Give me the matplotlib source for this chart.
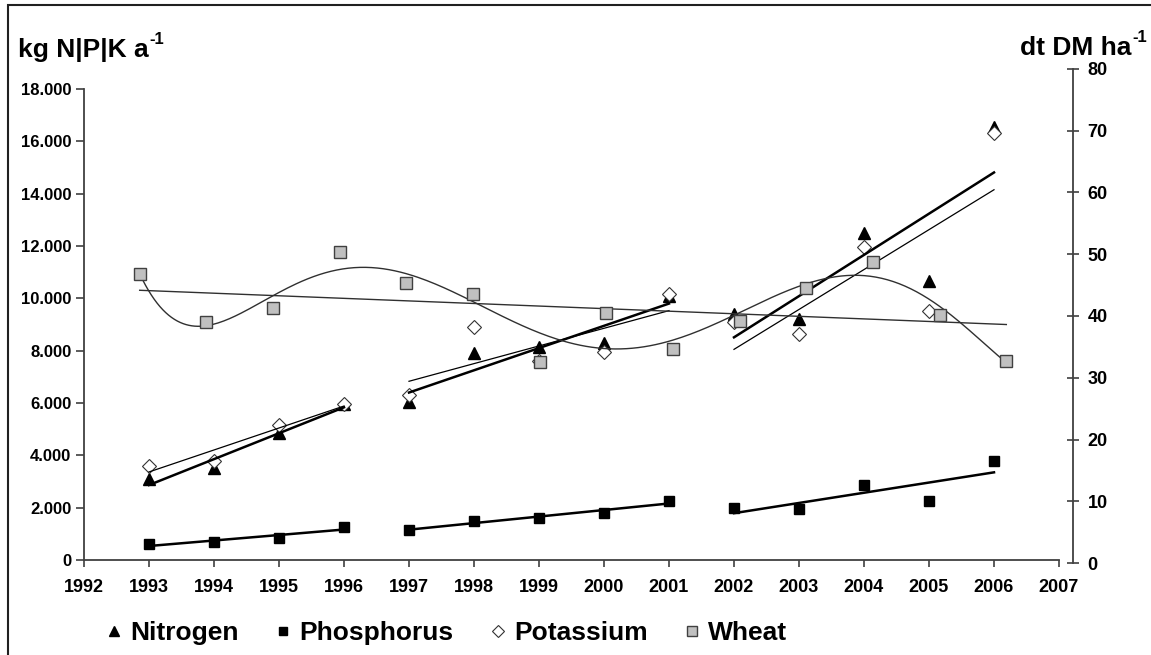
import numpy as np
import matplotlib
matplotlib.use("Agg")
import matplotlib.pyplot as plt
from matplotlib.lines import Line2D
from matplotlib.patches import Rectangle
from matplotlib.ticker import FuncFormatter

plt.rcParams['font.family'] = 'Liberation Sans'
plt.rcParams['font.weight'] = 'bold'

# data
years = np.arange(1993, 2007)
segments = [(1993, 1996), (1997, 2001), (2002, 2006)]

nitrogen = np.array([3100, 3500, 4850, 5950, 6050, 7900, 8150, 8300, 10100,
                     9400, 9200, 12500, 10650, 16550])
phosphorus = np.array([600, 700, 850, 1250, 1150, 1500, 1600, 1800, 2250,
                       2000, 1950, 2850, 2250, 3800])
potassium = np.array([3600, 3800, 5150, 5950, 6300, 8900, 7600, 7950, 10150,
                      9100, 8650, 11950, 9500, 16300])
wheat = np.array([46.8, 39.0, 41.3, 50.4, 45.3, 43.6, 32.6, 40.5, 34.7,
                  39.2, 44.5, 48.7, 40.2, 32.7])

x_ticks = np.arange(1992, 2008)
left_ticks = np.arange(0, 18001, 2000)
right_ticks = np.arange(0, 81, 10)

W, H = 1151, 655
fig = plt.figure(figsize=(W / 100, H / 100), dpi=100)


def box(l, r, t, b):
    return [l / W, 1 - b / H, (r - l) / W, (b - t) / H]


axis_col = '#404040'

ax = fig.add_axes(box(84, 1059, 89, 560))
ax2 = fig.add_axes(box(73, 1073, 69, 563))
ax2.patch.set_visible(False)

# nutrients with one linear trend per period
series = [
    (nitrogen, dict(marker='^', color='black', ms=8), 1.8),
    (phosphorus, dict(marker='s', color='black', ms=7.5), 1.8),
    (potassium, dict(marker='D', mfc='white', mec='#333333', mew=0.8, ms=7), 0.9),
]
for vals, style, lw in series:
    ax.plot(years, vals, ls='none', zorder=3, **style)
    for a, b in segments:
        m = (years >= a) & (years <= b)
        coef = np.polyfit(years[m], vals[m], 1)
        xs = np.array([a, b])
        ax.plot(xs, np.polyval(coef, xs), color='black', lw=lw, zorder=4)

ax.set_xlim(1992, 2007)
ax.set_ylim(0, 18000)
ax.set_xticks(x_ticks)
ax.set_yticks(left_ticks)
ax.yaxis.set_major_formatter(FuncFormatter(lambda v, p: f"{int(v):,}".replace(",", ".")))
for s in ['top', 'right']:
    ax.spines[s].set_visible(False)
for s in ['left', 'bottom']:
    ax.spines[s].set_color(axis_col)
    ax.spines[s].set_linewidth(1.3)
ax.tick_params(axis='x', direction='out', length=5, width=1.2, color=axis_col,
               labelsize=13, pad=9)
ax.tick_params(axis='y', direction='out', length=6, width=1.2, color=axis_col,
               labelsize=12, pad=3)

# wheat on its own axis
ax2.plot(years, wheat, ls='none', marker='s', ms=9, mfc='#c0c0c0', mec='#404040',
         mew=1.0, zorder=3)
lin = np.polyfit(years, wheat, 1)
xs = np.array([years[0], years[-1]])
ax2.plot(xs, np.polyval(lin, xs), color='#303030', lw=1.0)
poly = np.polyfit(years - 1999.5, wheat, 6)
xs = np.linspace(years[0], years[-1], 300)
ax2.plot(xs, np.polyval(poly, xs - 1999.5), color='#303030', lw=1.0)

ax2.set_xlim(1992, 2007)
ax2.set_ylim(0, 80)
ax2.set_yticks(right_ticks)
ax2.xaxis.set_visible(False)
ax2.yaxis.tick_right()
for s in ['top', 'left', 'bottom']:
    ax2.spines[s].set_visible(False)
ax2.spines['right'].set_color(axis_col)
ax2.spines['right'].set_linewidth(1.3)
ax2.tick_params(axis='y', direction='inout', length=9, width=1.2, color=axis_col,
                labelsize=13, pad=6)

# axis titles with a plain hyphen superscript
renderer = fig.canvas.get_renderer()
t1 = fig.text(18 / W, 1 - 50 / H, "kg N|P|K a", fontsize=19, ha='left', va='center')
x1 = t1.get_window_extent(renderer).x1
fig.text((x1 + 1) / W, 1 - 39 / H, "-1", fontsize=12, ha='left', va='center')

s2 = fig.text(1147 / W, 1 - 37 / H, "-1", fontsize=12, ha='right', va='center')
x0 = s2.get_window_extent(renderer).x0
fig.text((x0 - 1) / W, 1 - 48 / H, "dt DM ha", fontsize=19, ha='right', va='center')

handles = [
    Line2D([], [], ls='none', marker='^', color='black', ms=7),
    Line2D([], [], ls='none', marker='s', color='black', ms=6),
    Line2D([], [], ls='none', marker='D', mfc='white', mec='#333333', mew=0.8, ms=6),
    Line2D([], [], ls='none', marker='s', mfc='#c0c0c0', mec='#404040', ms=7),
]
fig.legend(handles, ['Nitrogen', 'Phosphorus', 'Potassium', 'Wheat'],
           loc='center left', bbox_to_anchor=(106 / W, 1 - 633 / H), ncol=4,
           frameon=False, fontsize=19, handlelength=0.6, handletextpad=0.3,
           columnspacing=1.4, borderaxespad=0, borderpad=0)

fig.add_artist(Rectangle((8 / W, -0.02), 1.0, 1 - 5 / H + 0.02, transform=fig.transFigure,
                         fill=False, lw=1.5, ec='#202020'))

fig.savefig('out.png', dpi=100)
